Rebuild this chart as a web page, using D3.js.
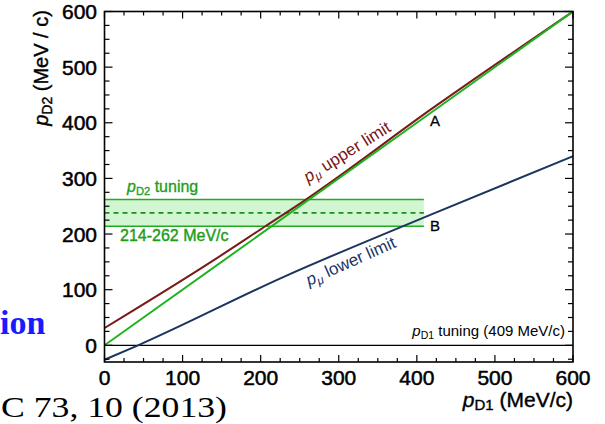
<!DOCTYPE html>
<html><head><meta charset="utf-8">
<script src="https://cdn.jsdelivr.net/npm/d3@7"></script>
<style>
html,body{margin:0;padding:0;background:#fff;}
svg{display:block;}
</style></head>
<body><svg id="c" width="605" height="424" font-family="'Liberation Sans',Arial,sans-serif"></svg>
<script>
// ---- data ----
const xTicks = [0, 100, 200, 300, 400, 500, 600];
const yTicks = [0, 100, 200, 300, 400, 500, 600];
const upperX = [0, 141, 206, 258, 422, 600];
const upperY = [31, 154, 214, 262, 428, 600];
const tuneX = [0, 600];
const tuneY = [0, 600];
const lowerX = [0, 43, 231, 418, 600];
const lowerY = [-26, 0, 124, 235, 340];
const bandLow = 214, bandHigh = 262, bandMid = 238, bandEnd = 409;
const zeroLine = 0;

const svg = d3.select("#c");
const L = 104.5, R = 573, T = 11.5, B = 362;
const x = d3.scaleLinear().domain([0, 600]).range([L, R]);
const y = d3.scaleLinear().domain([-30, 600]).range([B, T]);

svg.append("defs").append("clipPath").attr("id","clip")
  .append("rect").attr("x",L).attr("y",T).attr("width",R-L).attr("height",B-T);
const g = svg.append("g").attr("clip-path","url(#clip)");

// band
g.append("rect").attr("x",x(0)).attr("y",y(bandHigh))
  .attr("width",x(bandEnd)-x(0)).attr("height",y(bandLow)-y(bandHigh))
  .attr("fill","#d2f5d2");
[bandLow, bandHigh].forEach(v => g.append("line")
  .attr("x1",x(0)).attr("x2",x(bandEnd)).attr("y1",y(v)).attr("y2",y(v))
  .attr("stroke","#22aa22").attr("stroke-width",1.6));
g.append("line").attr("x1",x(0)).attr("x2",x(bandEnd)).attr("y1",y(bandMid)).attr("y2",y(bandMid))
  .attr("stroke","#1e8f1e").attr("stroke-width",1.6).attr("stroke-dasharray","5,4");

// zero line
g.append("line").attr("x1",x(0)).attr("x2",x(600)).attr("y1",y(zeroLine)).attr("y2",y(zeroLine))
  .attr("stroke","#000").attr("stroke-width",1.2);

const line = d3.line().x(d=>x(d[0])).y(d=>y(d[1])).curve(d3.curveMonotoneX);
g.append("path").datum(lowerX.map((v,i)=>[v,lowerY[i]])).attr("d",line)
  .attr("fill","none").attr("stroke","#1c3560").attr("stroke-width",2);
g.append("path").datum(upperX.map((v,i)=>[v,upperY[i]])).attr("d",line)
  .attr("fill","none").attr("stroke","#7a1a1a").attr("stroke-width",2);
g.append("path").datum(tuneX.map((v,i)=>[v,tuneY[i]])).attr("d",line)
  .attr("fill","none").attr("stroke","#1db31d").attr("stroke-width",2);

// frame
svg.append("rect").attr("x",L).attr("y",T).attr("width",R-L).attr("height",B-T)
  .attr("fill","none").attr("stroke","#000").attr("stroke-width",1.6);

// ticks
const minorX = d3.range(0, 601, 25), minorY = d3.range(-25, 601, 25);
const tk = svg.append("g").attr("stroke","#000").attr("stroke-width",1.2);
minorX.forEach(v => {
  const len = v % 100 === 0 ? 7 : 4;
  tk.append("line").attr("x1",x(v)).attr("x2",x(v)).attr("y1",B).attr("y2",B-len);
  tk.append("line").attr("x1",x(v)).attr("x2",x(v)).attr("y1",T).attr("y2",T+len);
});
minorY.forEach(v => {
  const len = v % 100 === 0 ? 8 : 5;
  tk.append("line").attr("y1",y(v)).attr("y2",y(v)).attr("x1",L).attr("x2",L+len);
  tk.append("line").attr("y1",y(v)).attr("y2",y(v)).attr("x1",R).attr("x2",R-len);
});

// tick labels
xTicks.forEach(v => svg.append("text").attr("x",x(v)).attr("y",385)
  .attr("text-anchor","middle").attr("font-size",21)
  .attr("stroke","#000").attr("stroke-width",0.5).text(v));
yTicks.forEach(v => svg.append("text").attr("x",97).attr("y",y(v)).attr("dy","0.36em")
  .attr("text-anchor","end").attr("font-size",21)
  .attr("stroke","#000").attr("stroke-width",0.5).text(v));

// axis titles
const yt = svg.append("text").attr("transform","translate(48,68) rotate(-90)")
  .attr("text-anchor","middle").attr("font-size",20)
  .attr("stroke","#000").attr("stroke-width",0.4);
yt.append("tspan").attr("font-style","italic").text("p");
yt.append("tspan").attr("font-size",14).attr("dy",4).text("D2");
yt.append("tspan").attr("dy",-4).text(" (MeV / c)");

const xt = svg.append("text").attr("x",573).attr("y",407)
  .attr("text-anchor","end").attr("font-size",21)
  .attr("stroke","#000").attr("stroke-width",0.4);
xt.append("tspan").attr("font-style","italic").text("p");
xt.append("tspan").attr("font-size",15).attr("dy",3).text("D1");
xt.append("tspan").attr("dy",-3).text(" (MeV/c)");

// annotations
function sub(sel, main, s, rest, size, color) {
  const t = sel.attr("font-size",size).attr("fill",color);
  t.append("tspan").attr("font-style","italic").text(main);
  t.append("tspan").attr("font-size",size*0.7).attr("dy",size*0.2).attr("font-style", s==="μ"?"italic":"normal").text(s);
  t.append("tspan").attr("dy",-size*0.2).text(rest);
  return t;
}
sub(svg.append("text").attr("x",127).attr("y",192).attr("stroke","#1a9e1a").attr("stroke-width",0.3), "p", "D2", " tuning", 16, "#1a9e1a");
svg.append("text").attr("x",120).attr("y",241).attr("font-size",16).attr("fill","#1a9e1a")
  .attr("stroke","#1a9e1a").attr("stroke-width",0.4).text("214-262 MeV/c");

sub(svg.append("text").attr("transform","translate(308,183) rotate(-32)"), "p", "μ", " upper limit", 17, "#7a1515");
sub(svg.append("text").attr("transform","translate(309,286) rotate(-24)"), "p", "μ", " lower limit", 17, "#1a3366");

svg.append("text").attr("x",430).attr("y",126).attr("font-size",15).attr("stroke","#000").attr("stroke-width",0.3).text("A");
svg.append("text").attr("x",430).attr("y",231).attr("font-size",15).attr("stroke","#000").attr("stroke-width",0.3).text("B");

sub(svg.append("text").attr("x",565).attr("y",336).attr("text-anchor","end"), "p", "D1", " tuning (409 MeV/c)", 15, "#000");

// surrounding page fragments
svg.append("text").attr("x",0).attr("y",334).attr("font-family","'Liberation Serif','Times New Roman',serif")
  .attr("font-weight","bold").attr("font-size",34).attr("fill","#1a1aff").text("ion");
svg.append("text").attr("x",1).attr("y",417).attr("font-family","'Liberation Serif','Times New Roman',serif")
  .attr("font-size",30).attr("fill","#000")
  .attr("textLength",226).attr("lengthAdjust","spacingAndGlyphs").text("C 73, 10 (2013)");
</script></body></html>
